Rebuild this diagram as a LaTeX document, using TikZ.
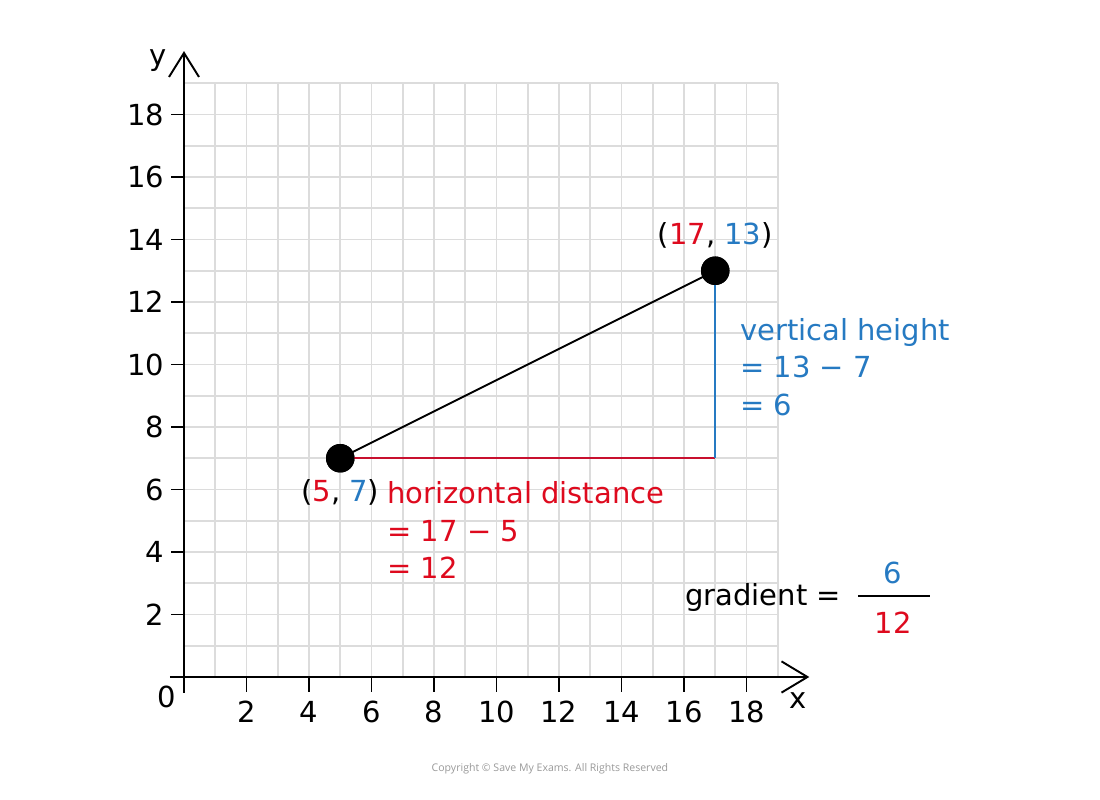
\documentclass[tikz,border=0pt]{standalone}
\usepackage{fontspec}
\setmainfont{DejaVu Sans}
\newfontfamily\copyfont{Open Sans}
\definecolor{myred}{RGB}{222,10,30}
\definecolor{mylinered}{RGB}{200,16,46}
\definecolor{myblue}{RGB}{38,122,194}
\definecolor{gridgray}{RGB}{220,220,220}
\begin{document}
\begin{tikzpicture}[x=0.625cm,y=0.625cm,
  gridline/.style={draw=gridgray,line width=0.9pt},
  axis/.style={draw=black,line width=1.1pt},
  tick/.style={draw=black,line width=1.1pt},
  lbl/.style={font=\fontsize{16.5}{21.5}\selectfont,inner sep=0pt},
  dot/.style={circle,fill=black,minimum size=0.57cm,inner sep=0pt},
  seg/.style={line width=1.1pt}]
\useasboundingbox (-5.888,-3.936) rectangle (29.312,21.664);
% grid
\draw[gridline] (0,0) grid[step={(1,1)}] (19,19);
% axes
\coordinate (xs) at (-0.45,0);
\coordinate (xe) at (19.95,0);
\coordinate (ys) at (0,-0.5);
\coordinate (ye) at (0,19.97);
\draw[axis] (xs) -- (xe);
\draw[axis] (ys) -- (ye);
\draw[axis,line join=miter] ([shift={(-0.83,0.5)}]xe) -- (xe) -- ([shift={(-0.83,-0.5)}]xe);
\draw[axis,line join=miter] ([shift={(-0.48,-0.77)}]ye) -- (ye) -- ([shift={(0.48,-0.77)}]ye);
% ticks and labels
\foreach \v in {2,4,...,18} {
  \draw[tick] (\v,0) -- (\v,-0.47);
  \node[lbl] (xl\v) at (\v,-1.12) {\v};
  \draw[tick] (0,\v) -- (-0.42,\v);
  \node[lbl,anchor=east] (yl\v) at (-0.63,\v) {\v};
}
\node[lbl] (zero) at (-0.54,-0.64) {0};
\node[lbl] (xlab) at (19.65,-0.74) {x};
\node[lbl] (ylab) at (-0.83,19.72) {y};
% points
\node[dot] (A) at (5,7) {};
\node[dot] (B) at (17,13) {};
\coordinate (C) at (17,7);
\draw[seg,black] (A.center) -- (B.center);
\draw[seg,mylinered] (A.center) -- (C);
\draw[seg,myblue] (B.center) -- (C);
\node[dot] at (A) {};
\node[dot] at (B) {};
% labels
\node[lbl] (Blab) at (17,14.14) {(\textcolor{myred}{17}, \textcolor{myblue}{13})};
\node[lbl] (Alab) at (5,5.92) {(\textcolor{myred}{5}, \textcolor{myblue}{7})};
\node[lbl,anchor=west,align=left,text=myred] (hd) at (6.5,4.70) {horizontal distance\\= 17 − 5\\= 12};
\node[lbl,anchor=west,align=left,text=myblue] (vh) at (17.79,9.92) {vertical height\\= 13 − 7\\= 6};
\node[lbl] (grad) at (18.53,2.55) {gradient =};
\node[lbl,text=myblue] (num) at (22.69,3.33) {6};
\node[lbl,text=myred] (den) at (22.69,1.73) {12};
\coordinate (barl) at (21.57,2.59);
\coordinate (barr) at (23.87,2.59);
\draw[seg] (barl) -- (barr);
\node[font=\copyfont\fontsize{6}{7}\selectfont,text=black!40] (copy) at (11.71,-2.93) {Copyright © Save My Exams. All Rights Reserved};
\end{tikzpicture}
\end{document}
